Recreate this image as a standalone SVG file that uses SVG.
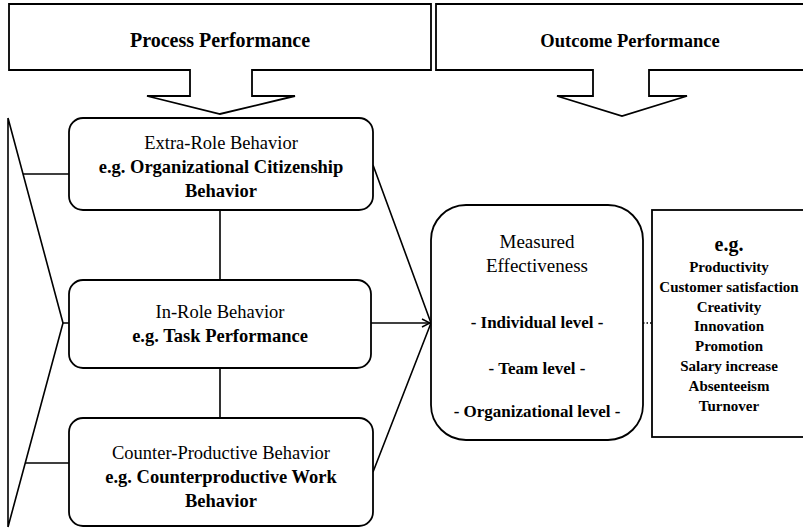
<svg xmlns="http://www.w3.org/2000/svg" width="803" height="528" viewBox="0 0 803 528">
<defs>
<style>
.s{fill:#fff;stroke:#000;stroke-width:1.8}
.l{fill:none;stroke:#000;stroke-width:1.6}
.t{font-family:"Liberation Serif","Times New Roman",serif;fill:#000;text-anchor:middle}
.r{font-size:18.5px}
.b{font-size:18.5px;font-weight:bold}
.m{font-size:17px;font-weight:bold}
.k{font-size:15px;font-weight:bold}
</style>
<marker id="ah" markerWidth="10" markerHeight="10" refX="9" refY="5" orient="auto" markerUnits="userSpaceOnUse">
<path d="M1,1 L9,5 L1,9" fill="none" stroke="#000" stroke-width="1.5"/>
</marker>
</defs>
<rect width="803" height="528" fill="#fff"/>
<g id="process-performance">
<path class="s" d="M9,4 H431 V70 H252 V96 H295 L220,114 L147,96 H190 V70 H9 Z"/>
<text class="t b" x="220" y="47" style="font-size:20px">Process Performance</text>
</g>
<g id="outcome-performance">
<path class="s" d="M436,4 H830 V70 H649 V96 H687 L622,116 L557,96 H593 V70 H436 Z"/>
<text class="t b" x="630" y="47">Outcome Performance</text>
</g>
<g id="connectors">
<path class="l" d="M8,118 V527 M8,118 L63,323 L8,527"/>
<path class="l" d="M23,174 H69 M63,323 H69 M25,463 H69"/>
<path class="l" d="M220,210 V280 M220,368 V418"/>
<path class="l" d="M373,165 L431,323 M373,472 L431,323"/>
<path class="l" d="M370,323 H430" marker-end="url(#ah)"/>
<path class="l" d="M643,323 H652" stroke-dasharray="1.5,2" stroke-width="1.2"/>
</g>
<g id="extra-role">
<rect class="s" x="69" y="118" width="304" height="92" rx="14"/>
<text class="t r" x="221" y="149">Extra-Role Behavior</text>
<text class="t b" x="221" y="173">e.g. Organizational Citizenship</text>
<text class="t b" x="221" y="197">Behavior</text>
</g>
<g id="in-role">
<rect class="s" x="69" y="280" width="302" height="88" rx="14"/>
<text class="t r" x="220" y="318">In-Role Behavior</text>
<text class="t b" x="220" y="342">e.g. Task Performance</text>
</g>
<g id="counter-productive">
<rect class="s" x="69" y="418" width="304" height="108" rx="14"/>
<text class="t r" x="221" y="459">Counter-Productive Behavior</text>
<text class="t b" x="221" y="483">e.g. Counterproductive Work</text>
<text class="t b" x="221" y="507">Behavior</text>
</g>
<g id="measured-effectiveness">
<rect class="s" x="431" y="205" width="212" height="235" rx="35"/>
<text class="t" x="537" y="248" font-size="19">Measured</text>
<text class="t" x="537" y="272" font-size="19">Effectiveness</text>
<text class="t m" x="537" y="328">- Individual level -</text>
<text class="t m" x="537" y="374">- Team level -</text>
<text class="t m" x="537" y="417">- Organizational level -</text>
</g>
<g id="examples">
<rect class="s" x="652" y="210" width="180" height="227"/>
<text class="t" x="729" y="251" font-size="20" font-weight="bold">e.g.</text>
<text class="t k" x="729" y="272">Productivity</text>
<text class="t k" x="729" y="292">Customer satisfaction</text>
<text class="t k" x="729" y="312">Creativity</text>
<text class="t k" x="729" y="331">Innovation</text>
<text class="t k" x="729" y="351">Promotion</text>
<text class="t k" x="729" y="371">Salary increase</text>
<text class="t k" x="729" y="391">Absenteeism</text>
<text class="t k" x="729" y="411">Turnover</text>
</g>
</svg>
